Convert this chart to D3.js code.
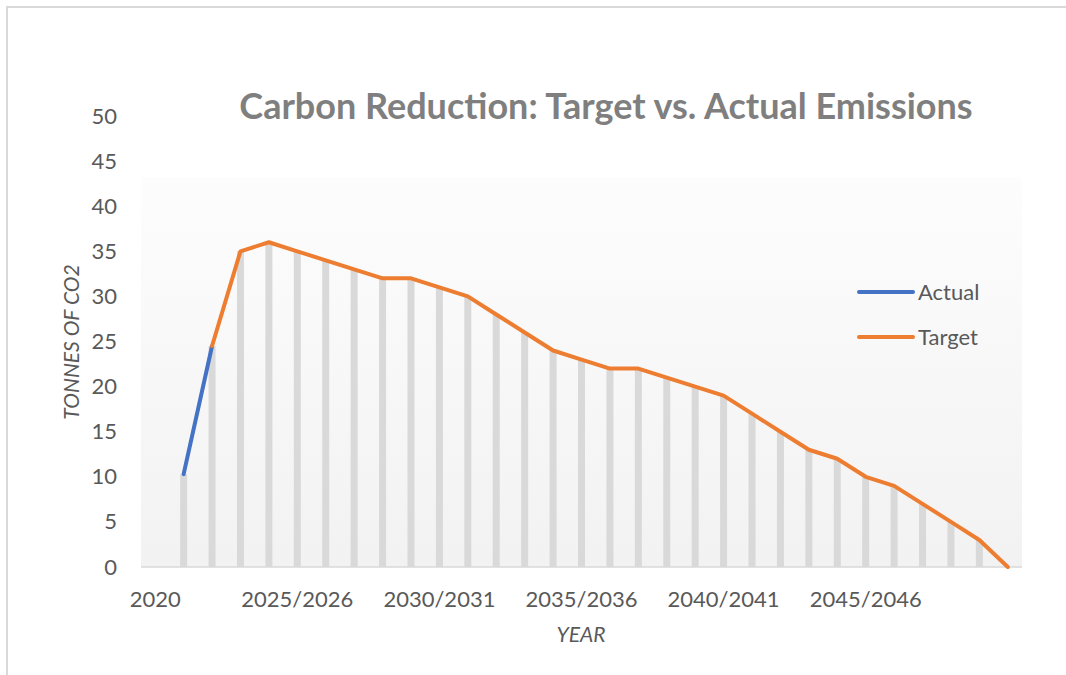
<!DOCTYPE html>
<html>
<head>
<meta charset="utf-8">
<script src="https://cdn.jsdelivr.net/npm/d3@7.9.0/dist/d3.min.js"></script>
<style>
  body { margin: 0; background: #fff; }
  svg { display: block; font-family: Lato, 'Open Sans', sans-serif; }
</style>
</head>
<body>
<svg id="chart" width="1066" height="675"></svg>
<script>
// categories along the x axis (one per year)
const categories = [
  '2020', '2021/2022', '2022/2023', '2023/2024', '2024/2025', '2025/2026',
  '2026/2027', '2027/2028', '2028/2029', '2029/2030', '2030/2031',
  '2031/2032', '2032/2033', '2033/2034', '2034/2035', '2035/2036',
  '2036/2037', '2037/2038', '2038/2039', '2039/2040', '2040/2041',
  '2041/2042', '2042/2043', '2043/2044', '2044/2045', '2045/2046',
  '2046/2047', '2047/2048', '2048/2049', '2049/2050', '2050/2051'
];
// only every fifth label is shown
const xTickLabels = ['2020', '2025/2026', '2030/2031', '2035/2036', '2040/2041', '2045/2046'];
const yTicks = [0, 5, 10, 15, 20, 25, 30, 35, 40, 45, 50];

const actual = [null, 10.3, 24.5, null, null, null, null, null, null, null, null,
  null, null, null, null, null, null, null, null, null, null,
  null, null, null, null, null, null, null, null, null, null];
const target = [null, null, 24.5, 35, 36, 35, 34, 33, 32, 32, 31,
  30, 28, 26, 24, 23, 22, 22, 21, 20, 19,
  17, 15, 13, 12, 10, 9, 7, 5, 3, 0];

const svg = d3.select('#chart');

// chart frame (cropped on right/bottom like the original)
svg.append('path')
  .attr('d', 'M7,675 V7 H1066')
  .attr('fill', 'none')
  .attr('stroke', '#d9d9d9')
  .attr('stroke-width', 2);

const plot = { left: 141, right: 1022, top: 116, bottom: 567 };

let x = d3.scaleBand().domain(categories).range([plot.left, plot.right]);
let y = d3.scaleLinear().domain([0, 50]).range([plot.bottom, plot.top]);

// plot area gradient
const grad = svg.append('defs').append('linearGradient')
  .attr('id', 'bg').attr('x1', 0).attr('y1', 0).attr('x2', 0).attr('y2', 1);
grad.append('stop').attr('offset', '0%').attr('stop-color', '#fdfdfd');
grad.append('stop').attr('offset', '100%').attr('stop-color', '#f2f2f2');

svg.append('rect')
  .attr('x', plot.left)
  .attr('y', 177)
  .attr('width', plot.right - plot.left)
  .attr('height', plot.bottom - 177)
  .attr('fill', 'url(#bg)');

// drop lines
const dropTop = categories.map((c, i) => d3.max([actual[i], target[i]]));
svg.append('g')
  .selectAll('line')
  .data(categories.filter((c, i) => dropTop[i] > 0))
  .join('line')
  .attr('x1', (d) => x(d) + x.bandwidth() / 2)
  .attr('x2', (d) => x(d) + x.bandwidth() / 2)
  .attr('y1', y(0))
  .attr('y2', (d) => y(dropTop[categories.indexOf(d)]))
  .attr('stroke', '#d9d9d9')
  .attr('stroke-width', 7);

// category axis line
svg.append('line')
  .attr('x1', plot.left).attr('x2', plot.right)
  .attr('y1', y(0)).attr('y2', y(0))
  .attr('stroke', '#d9d9d9')
  .attr('stroke-width', 1.5);

// y axis
const yAxis = svg.append('g')
  .attr('transform', `translate(${plot.left},0)`)
  .call(d3.axisLeft(y).tickValues(yTicks).tickSize(0).tickPadding(24));
yAxis.select('.domain').remove();
yAxis.selectAll('text')
  .attr('fill', '#595959')
  .style('font-size', '22px')
  .style('font-family', 'Lato, sans-serif');

// x axis
const xAxis = svg.append('g')
  .attr('transform', `translate(0,${plot.bottom})`)
  .call(d3.axisBottom(x).tickValues(xTickLabels).tickSize(0).tickPadding(24));
xAxis.select('.domain').remove();
xAxis.selectAll('text')
  .attr('fill', '#595959')
  .style('font-size', '22px')
  .style('font-family', 'Lato, sans-serif');

// lines
const lineGen = (vals) => d3.line()
  .defined((d, i) => vals[i] !== null)
  .x((d) => x(d) + x.bandwidth() / 2)
  .y((d, i) => y(vals[i]))(categories);

const series = [
  { name: 'Actual', values: actual, color: '#4472c4' },
  { name: 'Target', values: target, color: '#ed7d31' }
];

series.forEach((s) => {
  svg.append('path')
    .attr('d', lineGen(s.values))
    .attr('fill', 'none')
    .attr('stroke', s.color)
    .attr('stroke-width', 4)
    .attr('stroke-linejoin', 'round')
    .attr('stroke-linecap', 'round');
});

// legend
series.forEach((s, i) => {
  const ly = 292 + i * 45;
  svg.append('line')
    .attr('x1', 859).attr('x2', 913)
    .attr('y1', ly).attr('y2', ly)
    .attr('stroke', s.color)
    .attr('stroke-width', 4)
    .attr('stroke-linecap', 'round');
  svg.append('text')
    .attr('x', 918).attr('y', ly)
    .attr('dy', '0.35em')
    .attr('fill', '#595959')
    .style('font-size', '22px')
    .text(s.name);
});

// title
svg.append('text')
  .attr('x', 606).attr('y', 119)
  .attr('text-anchor', 'middle')
  .attr('fill', '#7f7f7f')
  .style('font-size', '36px')
  .style('font-weight', 'bold')
  .text('Carbon Reduction: Target vs. Actual Emissions');

// axis titles
svg.append('text')
  .attr('transform', 'translate(79,342) rotate(-90)')
  .attr('text-anchor', 'middle')
  .attr('fill', '#595959')
  .style('font-size', '21px')
  .style('font-style', 'italic')
  .text('TONNES OF CO2');

svg.append('text')
  .attr('x', 581).attr('y', 642)
  .attr('text-anchor', 'middle')
  .attr('fill', '#595959')
  .style('font-size', '21px')
  .style('font-style', 'italic')
  .text('YEAR');
</script>
</body>
</html>
